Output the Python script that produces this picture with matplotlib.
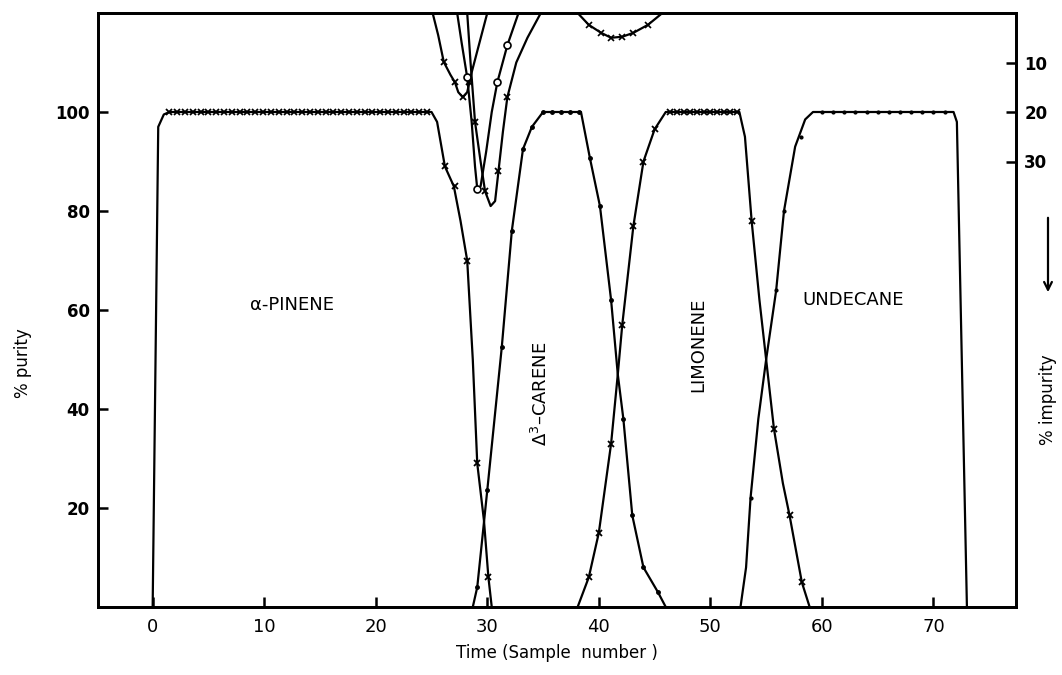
import numpy as np
import matplotlib.pyplot as plt

# 纯度曲线（左轴，% purity）
pinene_x = [0.0, 0.5, 1.0, 1.5, 25.0, 25.5, 26.2, 27.0, 27.6, 28.2, 28.7, 29.1, 29.7, 30.1, 30.4]
pinene_y = [0, 97, 99.5, 100, 100, 98, 89, 85, 78, 70, 50, 29, 17.5, 6, 0]
pinene_mx = [1.5, 2.2, 2.9, 3.6, 4.3, 5.0, 5.7, 6.4, 7.1, 7.8, 8.5, 9.2, 9.9, 10.6, 11.3, 12.0,
             12.7, 13.4, 14.1, 14.8, 15.5, 16.2, 16.9, 17.6, 18.3, 19.0, 19.7, 20.4, 21.1, 21.8,
             22.5, 23.2, 23.9, 24.6, 26.2, 27.1, 28.2, 29.1, 30.1]
pinene_my = [100] * 34 + [89, 85, 70, 29, 6]

carene_x = [28.7, 29.1, 30.0, 31.3, 32.2, 33.2, 34.0, 35.0, 38.4, 39.2, 40.1, 41.1, 41.7, 42.2,
            43.0, 44.0, 45.3, 46.0]
carene_y = [0, 4, 23.6, 52.5, 76, 92.5, 97, 100, 100, 90.7, 81, 62, 47, 38, 18.5, 8, 3, 0]
carene_mx = [29.1, 30.0, 31.3, 32.2, 33.2, 34.0, 35.0, 35.8, 36.6, 37.4, 38.2, 39.2, 40.1, 41.1,
             42.2, 43.0, 44.0, 45.3]
carene_my = [4, 23.6, 52.5, 76, 92.5, 97, 100, 100, 100, 100, 100, 90.7, 81, 62, 38, 18.5, 8, 3]

limonene_x = [38.1, 39.1, 40.0, 41.1, 41.7, 42.1, 43.1, 44.0, 45.0, 46.0, 52.6, 53.1, 53.7,
              54.4, 55.0, 55.7, 56.5, 57.1, 58.2, 58.9]
limonene_y = [0, 6, 15, 33, 47, 57, 77, 90, 96.5, 100, 100, 95, 78, 62, 50, 36, 25, 18.5, 5, 0]
limonene_mx = [39.1, 40.0, 41.1, 42.1, 43.1, 44.0, 45.0, 46.4, 47.0, 47.6, 48.2, 48.8, 49.4,
               50.0, 50.6, 51.2, 51.8, 52.4, 53.7, 55.7, 57.1, 58.2]
limonene_my = [6, 15, 33, 57, 77, 90, 96.5] + [100] * 11 + [78, 36, 18.5, 5]

undecane_x = [52.7, 53.2, 53.6, 54.3, 55.0, 55.9, 56.6, 57.6, 58.5, 59.2, 71.8, 72.1, 73.0]
undecane_y = [0, 8, 22, 38, 50, 64, 80, 93, 98.5, 100, 100, 98, 0]
undecane_mx = [53.6, 55.9, 56.6, 58.1, 60.0, 61.0, 62.0, 63.0, 64.0, 65.0, 66.0, 67.0, 68.0,
               69.0, 70.0, 71.0]
undecane_my = [22, 64, 80, 95] + [100] * 12

# 杂质曲线（右轴，% impurity，向下增大）
imp1_x = [25.1, 25.6, 26.1, 26.7, 27.1, 27.4, 27.8, 28.2, 28.6, 29.3, 30.0]
imp1_y = [0, 4.5, 9.9, 12.5, 14, 16, 17, 16, 12, 6, 0]
imp1_mx = [26.1, 27.1, 27.8, 28.4]
imp1_my = [9.9, 14, 17, 14]

imp2_x = [27.3, 27.7, 28.2, 28.6, 28.9, 29.1, 29.4, 29.9, 30.4, 30.9, 31.8, 32.8]
imp2_y = [0, 6, 13, 22, 31, 35.5, 35, 28, 20, 14, 6.5, 0]
imp2_mx = [28.2, 29.1, 30.9, 31.8]
imp2_my = [13, 35.5, 14, 6.5]

imp3_x = [28.2, 28.5, 28.9, 29.4, 29.8, 30.3, 30.7, 31.0, 31.4, 31.8, 32.6, 33.6, 34.8]
imp3_y = [0, 10, 22, 30, 36, 39, 38, 32, 24, 17, 10, 5, 0]
imp3_mx = [28.9, 29.8, 31.0, 31.8]
imp3_my = [22, 36, 32, 17]

imp4_x = [38.1, 39.1, 40.2, 41.1, 42.1, 43.1, 44.4, 45.7]
imp4_y = [0, 2.4, 4, 5, 4.8, 4, 2.4, 0]
imp4_mx = [39.1, 40.2, 41.1, 42.1, 43.1, 44.4]
imp4_my = [2.4, 4, 5, 4.8, 4, 2.4]

xticks = [0, 10, 20, 30, 40, 50, 60, 70]
yticks = [20, 40, 60, 80, 100]
rticks = [10, 20, 30]

fig = plt.figure(figsize=(10.62, 6.75), dpi=100)
ax = fig.add_axes([98 / 1062, 1 - 607 / 675, (1016 - 98) / 1062, (607 - 13) / 675])
ax.set_xlim(-4.9, 77.4)
ax.set_ylim(0, 120)

lw = 1.6
ax.plot(pinene_x, pinene_y, 'k-', lw=lw)
ax.plot(pinene_mx, pinene_my, 'kx', ms=5, mew=1.3)
ax.plot(carene_x, carene_y, 'k-', lw=lw)
ax.plot(carene_mx, carene_my, 'k.', ms=5)
ax.plot(limonene_x, limonene_y, 'k-', lw=lw)
ax.plot(limonene_mx, limonene_my, 'kx', ms=5, mew=1.3)
ax.plot(undecane_x, undecane_y, 'k-', lw=lw)
ax.plot(undecane_mx, undecane_my, 'k.', ms=4)

ax2 = ax.twinx()
ax2.set_ylim(120, 0)
ax2.plot(imp1_x, imp1_y, 'k-', lw=lw)
ax2.plot(imp1_mx, imp1_my, 'kx', ms=5, mew=1.3)
ax2.plot(imp2_x, imp2_y, 'k-', lw=lw)
ax2.plot(imp2_mx, imp2_my, 'ko', ms=5, mfc='white', mew=1.2)
ax2.plot(imp3_x, imp3_y, 'k-', lw=lw)
ax2.plot(imp3_mx, imp3_my, 'kx', ms=5, mew=1.3)
ax2.plot(imp4_x, imp4_y, 'k-', lw=lw)
ax2.plot(imp4_mx, imp4_my, 'kx', ms=4, mew=1.2)

for a in (ax, ax2):
    for s in a.spines.values():
        s.set_linewidth(2)
ax.set_xticks(xticks)
ax.set_yticks(yticks)
ax.tick_params(direction='in', length=7, width=1.8, labelsize=12, pad=8)
ax.tick_params(axis='y', pad=6)
for t in ax.get_xticklabels():
    t.set_family(['Liberation Sans Narrow', 'DejaVu Sans'])
    t.set_fontsize(13)
for t in ax.get_yticklabels():
    t.set_fontweight('bold')
ax2.set_yticks(rticks)
ax2.tick_params(direction='in', length=7, width=1.8, labelsize=12, pad=6)
for t in ax2.get_yticklabels():
    t.set_fontweight('bold')

ax.set_xlabel('Time (Sample  number )', fontsize=12, labelpad=6)
ax.set_ylabel('% purity', fontsize=12)
ax.yaxis.set_label_coords(-0.072, 0.41)
fig.text(1048 / 1062, 1 - 400 / 675, '% impurity', rotation=90, ha='center', va='center',
         fontsize=12)
fig.patches.append(plt.matplotlib.patches.FancyArrowPatch(
    (1048 / 1062, 1 - 215 / 675), (1048 / 1062, 1 - 295 / 675), transform=fig.transFigure,
    arrowstyle='->', mutation_scale=14, lw=1.6, color='k'))

ax.text(12.5, 61.0, 'α-PINENE', fontsize=13, ha='center', va='center')
ax.text(34.8, 43.0, r'$\Delta^3$–CARENE', fontsize=13, rotation=90, ha='center', va='center')
ax.text(48.9, 53.0, 'LIMONENE', fontsize=13, rotation=90, ha='center', va='center')
ax.text(62.8, 62.0, 'UNDECANE', fontsize=13, ha='center', va='center')

fig.savefig('out.png', dpi=100)
